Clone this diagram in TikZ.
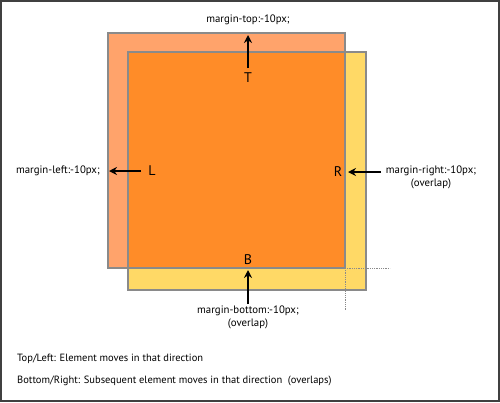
\documentclass[tikz,border=0pt]{standalone}
\usepackage{fontspec}
\setmainfont{PT Sans}
\usetikzlibrary{arrows.meta}
\definecolor{salmon}{HTML}{FFA36B}
\definecolor{yel}{HTML}{FFD966}
\definecolor{org}{HTML}{FF8C28}
\definecolor{edge}{HTML}{8A8A8A}
\tikzset{
  lbl/.style={font=\fontsize{10.8}{13}\selectfont, inner sep=0pt, align=center},
  note/.style={font=\fontsize{10.5}{12}\selectfont, inner sep=0pt, anchor=west},
  big/.style={font=\fontsize{14}{15}\selectfont, inner sep=0pt},
  arr/.style={-{Stealth[length=8pt,width=8pt]}, line width=2pt, black},
  guide/.style={edge, densely dotted, line width=0.8pt},
}
\begin{document}
\begin{tikzpicture}[x=1pt,y=-1pt]
\useasboundingbox (0,0) rectangle (500,402);
\draw[line width=2pt, black!75] (1,1) rectangle (499,401);
% boxes
\fill[yel] (128,52) rectangle (366,290);
\fill[salmon] (108,33) rectangle (345,268);
\fill[org] (128,52) rectangle (345,268);
\draw[edge, line width=1.5pt] (128,52) rectangle (366,290);
\draw[edge, line width=1.5pt] (108,33) rectangle (345,268);
\draw[guide] (345,268) -- (390,268);
\draw[guide] (345,268) -- (345,310);
% top
\node[lbl] (mt) at (248,20) {margin-top:-10px;};
\node[big] (T) at (248,78) {T};
\coordinate (Tt) at (248,35);
\coordinate (Tb) at (248,68);
\draw[arr] (Tb) -- (Tt);
% left
\node[big] (L) at (152,171) {L};
\node[lbl, anchor=east] (ml) at (100,171) {margin-left:-10px;};
\coordinate (Lb) at (141,171);
\coordinate (Lt) at (109,171);
\draw[arr] (Lb) -- (Lt);
% right
\node[big] (R) at (338,172) {R};
\node[lbl] (mr) at (431,177) {margin-right:-10px;\\(overlap)};
\coordinate (Rb) at (381,172);
\coordinate (Rt) at (348,172);
\draw[arr] (Rb) -- (Rt);
% bottom
\node[big] (B) at (248,260) {B};
\node[lbl] (mb) at (248,317) {margin-bottom:-10px;\\(overlap)};
\coordinate (Bb) at (248,304);
\coordinate (Bt) at (248,270);
\draw[arr] (Bb) -- (Bt);
% notes
\node[note] (n1) at (17,359) {Top/Left: Element moves in that direction};
\node[note] (n2) at (17,381) {Bottom/Right: Subsequent element moves in that direction\ \ (overlaps)};
\end{tikzpicture}
\end{document}
